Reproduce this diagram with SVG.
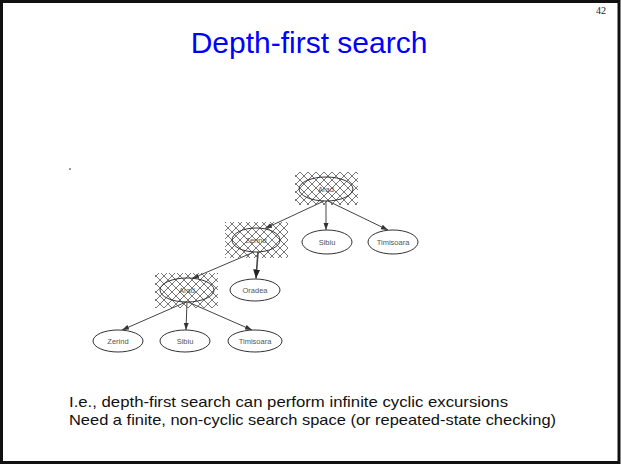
<svg xmlns="http://www.w3.org/2000/svg" width="621" height="465" viewBox="0 0 621 465">
  <style>
    .frame { fill: #ffffff; stroke: #111111; stroke-width: 3; }
    .title { font-family: "Liberation Sans", Arial, sans-serif; font-size: 30px; fill: #0000ff; text-anchor: middle; }
    .pageno { font-family: "Liberation Serif", "Times New Roman", serif; font-size: 10px; fill: #222222; text-anchor: end; }
    .body { font-family: "Liberation Sans", Arial, sans-serif; font-size: 14.5px; fill: #111111; }
    .node ellipse { fill: #ffffff; stroke: #333333; stroke-width: 1; }
    .node.visited ellipse { fill: none; }
    .node text { font-family: "Liberation Sans", Arial, sans-serif; font-size: 7.5px; fill: #555555; text-anchor: middle; }
    .hatch { fill: url(#xhatch); }
    .edge { stroke: #444444; stroke-width: 1; fill: none; marker-end: url(#arrow); }
    .edge.bold { stroke-width: 1.6; marker-end: url(#arrowBold); }
  </style>
  <defs>
    <pattern id="xhatch" width="8" height="8" patternUnits="userSpaceOnUse">
      <path d="M0,0 L8,8 M8,0 L0,8" stroke="#555555" stroke-width="0.8" fill="none"/>
    </pattern>
    <marker id="arrow" markerWidth="7" markerHeight="6" refX="7" refY="3" orient="auto" markerUnits="userSpaceOnUse">
      <path d="M0,0.5 L7,3 L0,5.5 Z" fill="#333333"/>
    </marker>
    <marker id="arrowBold" markerWidth="9" markerHeight="8" refX="9" refY="4" orient="auto" markerUnits="userSpaceOnUse">
      <path d="M0,0.5 L9,4 L0,7.5 Z" fill="#222222"/>
    </marker>
  </defs>

  <!-- slide frame -->
  <rect class="frame" x="1.5" y="1.5" width="617.5" height="461"/>

  <text class="pageno" x="606" y="14">42</text>
  <text class="title" x="309" y="53">Depth-first search</text>

  <!-- stray dot -->
  <circle cx="70" cy="169" r="1" fill="#777777"/>

  <!-- search tree edges -->
  <g id="edges">
    <line class="edge" x1="324" y1="201" x2="265" y2="228.5"/>
    <line class="edge" x1="326" y1="201" x2="326" y2="230"/>
    <line class="edge" x1="328" y1="201" x2="388" y2="230"/>
    <line class="edge bold" x1="258" y1="252" x2="256" y2="278.5"/>
    <line class="edge" x1="254" y1="252" x2="192" y2="278.5"/>
    <line class="edge" x1="186" y1="302" x2="122" y2="330"/>
    <line class="edge" x1="187" y1="302" x2="186" y2="330"/>
    <line class="edge" x1="188" y1="302" x2="252" y2="330"/>
  </g>

  <!-- root: Arad (expanded) -->
  <g id="n-arad" class="node visited">
    <rect class="hatch" x="295" y="172" width="63" height="33"/>
    <ellipse cx="326" cy="189" rx="27" ry="12"/>
    <text x="326" y="191.5">Arad</text>
  </g>
  <g id="n-zerind" class="node visited">
    <rect class="hatch" x="225" y="222" width="63" height="36"/>
    <ellipse cx="256" cy="240" rx="24" ry="12"/>
    <text x="256" y="242.5">Zerind</text>
  </g>
  <g id="n-sibiu" class="node">
    <ellipse cx="327" cy="242" rx="25" ry="12"/>
    <text x="327" y="244.5">Sibiu</text>
  </g>
  <g id="n-timisoara" class="node">
    <ellipse cx="393" cy="242" rx="25" ry="12"/>
    <text x="393" y="244.5">Timisoara</text>
  </g>
  <g id="n-arad2" class="node visited">
    <rect class="hatch" x="155" y="273" width="63" height="35"/>
    <ellipse cx="187" cy="290" rx="27" ry="12"/>
    <text x="187" y="292.5">Arad</text>
  </g>
  <g id="n-oradea" class="node">
    <ellipse cx="255" cy="290" rx="25" ry="11"/>
    <text x="255" y="292.5">Oradea</text>
  </g>
  <g id="n-zerind2" class="node">
    <ellipse cx="118" cy="341" rx="25" ry="11"/>
    <text x="118" y="343.5">Zerind</text>
  </g>
  <g id="n-sibiu2" class="node">
    <ellipse cx="185" cy="341" rx="25" ry="11"/>
    <text x="185" y="343.5">Sibiu</text>
  </g>
  <g id="n-timisoara2" class="node">
    <ellipse cx="255" cy="341" rx="27" ry="11"/>
    <text x="255" y="343.5">Timisoara</text>
  </g>

  <text class="body" x="69" y="407" textLength="439" lengthAdjust="spacingAndGlyphs">I.e., depth-first search can perform infinite cyclic excursions</text>
  <text class="body" x="69" y="425" textLength="487" lengthAdjust="spacingAndGlyphs">Need a finite, non-cyclic search space (or repeated-state checking)</text>
</svg>
